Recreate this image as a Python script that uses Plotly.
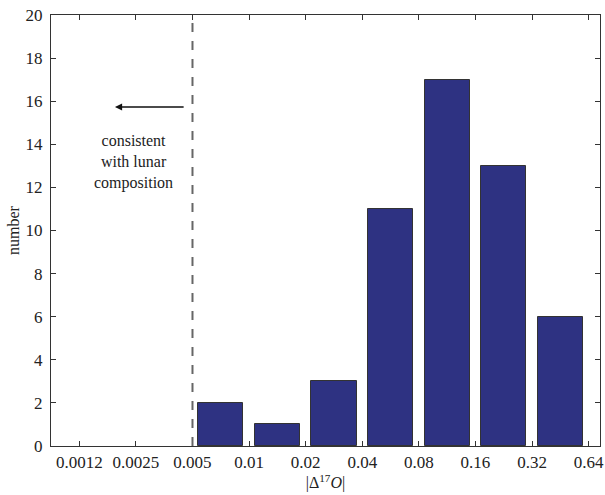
import plotly.graph_objects as go

tick_labels = ["0.0012", "0.0025", "0.005", "0.01", "0.02", "0.04", "0.08", "0.16", "0.32", "0.64"]
bin_start_index = 2  # first non-empty bin starts at 0.005
counts = [2, 1, 3, 11, 17, 13, 6]
y_ticks = list(range(0, 21, 2))

bar_x = [bin_start_index + i + 0.5 for i in range(len(counts))]
serif = "Liberation Serif, Times New Roman, serif"

fig = go.Figure()
fig.add_trace(go.Bar(
    x=bar_x, y=counts, width=0.8,
    marker=dict(color="#2e3282", line=dict(color="#333333", width=1)),
    showlegend=False, hoverinfo="skip",
))

fig.add_shape(type="line", xref="x", yref="paper", x0=bin_start_index, x1=bin_start_index,
              y0=0, y1=1, line=dict(color="#666666", width=2, dash="dash"))

fig.add_annotation(x=0.63, y=15.73, ax=1.87, ay=15.73, xref="x", yref="y", axref="x", ayref="y",
                   showarrow=True, arrowhead=2, arrowsize=1.1, arrowwidth=1.3, arrowcolor="#111111",
                   text=" ", font=dict(size=1))
fig.add_annotation(x=0.95, y=13.18, xref="x", yref="y", showarrow=False,
                   text="consistent<br>with lunar<br>composition",
                   font=dict(family=serif, size=16, color="#222222"), align="center")

axis_common = dict(showline=True, linecolor="#333333", linewidth=1.3, mirror="allticks",
                   ticks="inside", ticklen=5, tickcolor="#333333", tickwidth=1.3,
                   showgrid=False, zeroline=False, automargin=False, ticklabeloverflow="allow",
                   tickfont=dict(family=serif, size=17, color="#222222"))

fig.update_xaxes(range=[-0.5, 9.2], tickmode="array", tickvals=list(range(len(tick_labels))),
                 ticktext=tick_labels, ticklabelstandoff=0,
                 title=dict(text="|Δ<sup>17</sup><i>O</i>|", font=dict(family=serif, size=16, color="#222222"),
                            standoff=4),
                 **axis_common)
fig.update_yaxes(range=[0, 20.0001], tickmode="array", tickvals=y_ticks, ticklabelstandoff=4,
                 title=dict(text="number", font=dict(family=serif, size=16, color="#222222"), standoff=1),
                 **axis_common)

fig.update_layout(width=605, height=495, margin=dict(l=51, r=5, t=15, b=49),
                  plot_bgcolor="white", paper_bgcolor="white", bargap=0)

fig.write_html("out.html", config={"displayModeBar": False},
               post_script="document.body.style.margin='0';document.body.style.overflow='hidden';")
